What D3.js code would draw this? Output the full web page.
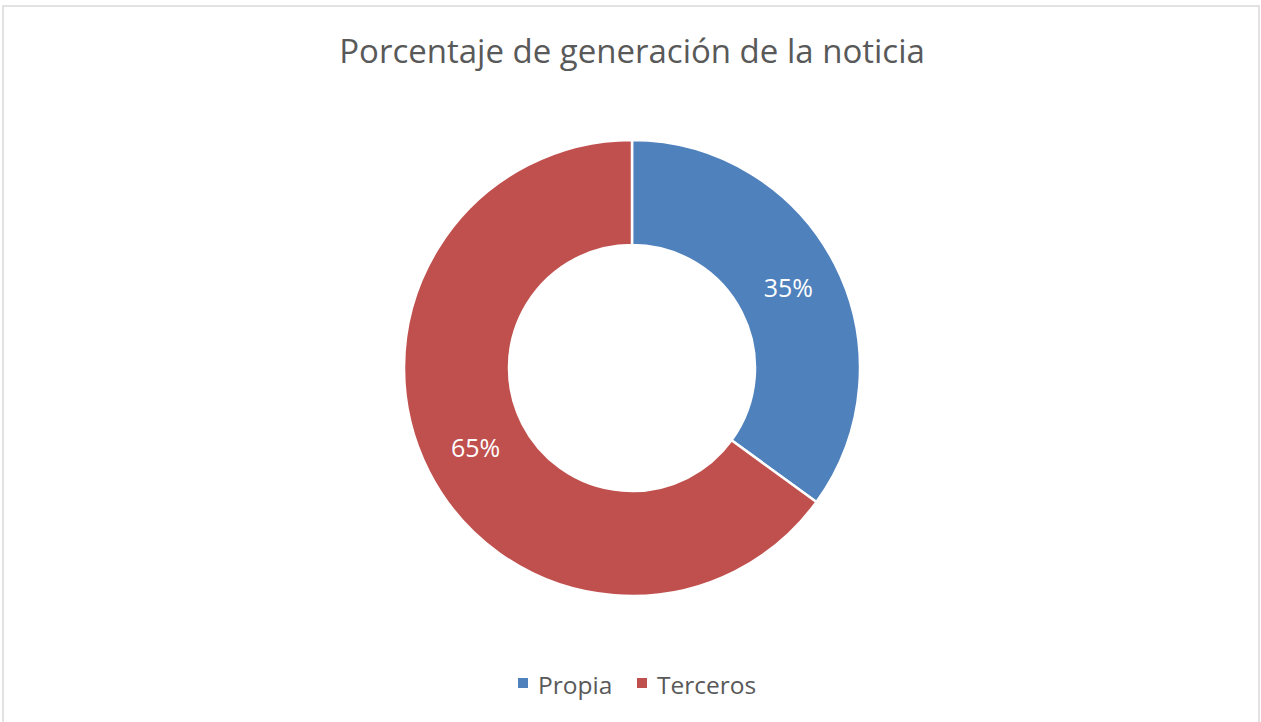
<!DOCTYPE html>
<html>
<head>
<meta charset="utf-8">
<script src="https://cdn.jsdelivr.net/npm/d3@7"></script>
<style>
  html, body { margin: 0; padding: 0; background: #ffffff; }
  svg { display: block; font-family: "Open Sans", "Noto Sans", sans-serif; }
</style>
</head>
<body>
<div id="chart"></div>
<script>
// chart data
var TITLE = "Porcentaje de generación de la noticia";
var categories = ["Propia", "Terceros"];
var values = [35, 65];
var colors = ["#4F81BD", "#C0504D"];

var WIDTH = 1261, HEIGHT = 722;
var CENTER_X = 632, CENTER_Y = 368;
var OUTER_R = 228, INNER_R = 123;
var TEXT_GREY = "#595959";

var svg = d3.select("#chart").append("svg")
  .attr("width", WIDTH)
  .attr("height", HEIGHT);

// ------------ frame ----------------
svg.append("rect")
  .attr("x", 3)
  .attr("y", 6)
  .attr("width", 1256)
  .attr("height", 730)
  .style("fill", "white")
  .style("stroke", "#d9d9d9")
  .style("stroke-width", 1.5);

// ------------ title ----------------
svg.append("text")
  .text(TITLE)
  .attr("x", CENTER_X)
  .attr("y", 63)
  .style("text-anchor", "middle")
  .style("font-size", "33px")
  .style("fill", TEXT_GREY);

// ------------ donut ----------------
var total = d3.sum(values);
var data = categories.map(function(c, i){ return {name: c, value: values[i], color: colors[i]}; });

var pie = d3.pie()
  .value(function(d){ return d.value; })
  .sort(null);

var arc = d3.arc()
  .innerRadius(INNER_R)
  .outerRadius(OUTER_R);

var labelArc = d3.arc()
  .innerRadius((INNER_R + OUTER_R) / 2)
  .outerRadius((INNER_R + OUTER_R) / 2);

var donut = svg.append("g")
  .attr("id", "donut")
  .attr("transform", "translate(" + CENTER_X + "," + CENTER_Y + ")");

var slices = donut.selectAll(".slice")
  .data(pie(data))
  .enter()
  .append("g")
  .attr("class", "slice");

slices.append("path")
  .attr("d", arc)
  .style("fill", function(d){ return d.data.color; })
  .style("stroke", "white")
  .style("stroke-width", 2.5);

slices.append("text")
  .text(function(d){ return Math.round(d.data.value / total * 100) + "%"; })
  .attr("transform", function(d){ return "translate(" + labelArc.centroid(d) + ")"; })
  .attr("dy", "0.36em")
  .style("text-anchor", "middle")
  .style("font-size", "25px")
  .style("fill", "white");

// ------------ legend ----------------
var legend = svg.append("g").attr("id", "legend");
var legendX = [518, 637];
var LEGEND_Y = 694;

categories.forEach(function(c, i){
  legend.append("rect")
    .attr("x", legendX[i])
    .attr("y", LEGEND_Y - 16)
    .attr("width", 10)
    .attr("height", 10)
    .style("fill", colors[i]);
  legend.append("text")
    .text(c)
    .attr("x", legendX[i] + 20)
    .attr("y", LEGEND_Y)
    .style("font-size", "24.5px")
    .style("fill", TEXT_GREY);
});
</script>
</body>
</html>
